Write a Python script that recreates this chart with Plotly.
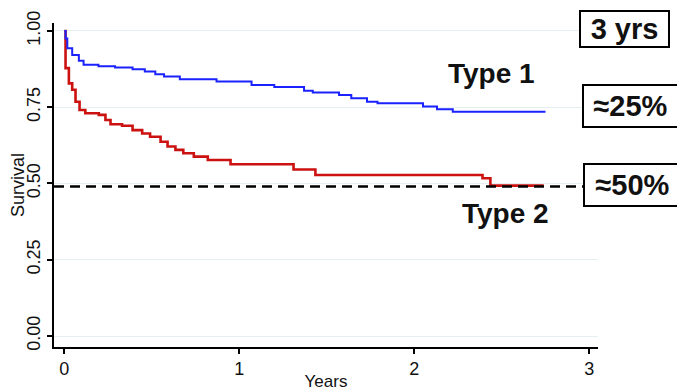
import plotly.graph_objects as go

# Kaplan-Meier style step data
type1_years = [0, 0.007, 0.017, 0.045, 0.083, 0.11, 0.195, 0.29, 0.39, 0.46, 0.52, 0.57, 0.66,
               0.87, 1.07, 1.20, 1.37, 1.42, 1.57, 1.64, 1.73, 1.79, 2.05, 2.13, 2.22, 2.75]
type1_surv = [1.0, 0.975, 0.943, 0.921, 0.902, 0.889, 0.884, 0.880, 0.874, 0.867, 0.858, 0.851, 0.842,
              0.834, 0.823, 0.816, 0.804, 0.798, 0.790, 0.779, 0.768, 0.763, 0.752, 0.743, 0.735, 0.735]

type2_years = [0, 0.007, 0.026, 0.045, 0.064, 0.087, 0.12, 0.197, 0.235, 0.264, 0.33, 0.39, 0.445,
               0.49, 0.55, 0.59, 0.635, 0.68, 0.74, 0.82, 0.95, 1.31, 1.435, 2.39, 2.435, 2.74]
type2_surv = [1.0, 0.878, 0.828, 0.807, 0.768, 0.741, 0.730, 0.725, 0.708, 0.694, 0.689, 0.675, 0.664,
              0.653, 0.637, 0.621, 0.610, 0.599, 0.588, 0.577, 0.563, 0.546, 0.528, 0.517, 0.493, 0.493]

ref_level = 0.49
y_ticks = [0, 0.25, 0.5, 0.75, 1.0]
y_ticklabels = ["0.00", "0.25", "0.50", "0.75", "1.00"]
x_ticks = [0, 1, 2, 3]

FONT = "Liberation Sans, Arial, sans-serif"

fig = go.Figure()
fig.add_trace(go.Scatter(x=type2_years, y=type2_surv, mode="lines", line_shape="hv",
                         line=dict(color="#cc1111", width=2.6), showlegend=False))
fig.add_trace(go.Scatter(x=type1_years, y=type1_surv, mode="lines", line_shape="hv",
                         line=dict(color="#1a22ff", width=2), showlegend=False))

# dashed reference line
fig.add_shape(type="line", xref="x", yref="y", x0=-0.059, x1=2.967, y0=ref_level, y1=ref_level,
              line=dict(color="black", width=2.5, dash="10px,6px"), layer="above")

fig.update_layout(
    width=677, height=383,
    margin=dict(l=45.5, r=87, t=15, b=44),
    paper_bgcolor="white", plot_bgcolor="white",
    font=dict(family=FONT, color="black"),
    xaxis=dict(range=[-0.059, 3.05], tickvals=x_ticks, ticks="outside", ticklen=5,
               tickwidth=1.5, tickcolor="black", showline=True, linecolor="black", linewidth=1.5,
               showgrid=False, zeroline=False, tickfont=dict(size=18, color="#111"),
               automargin=False,
               title=dict(text="Years", font=dict(size=17, color="#111"), standoff=0)),
    yaxis=dict(range=[-0.036, 1.026], tickvals=y_ticks, ticktext=y_ticklabels, tickangle=-90,
               ticks="outside", ticklen=5, tickwidth=1.5, tickcolor="black",
               showline=True, linecolor="black", linewidth=1.5,
               showgrid=True, gridcolor="#e6f0f3", gridwidth=1, zeroline=False,
               tickfont=dict(size=18, color="#111"), automargin=False,
               title=dict(text="Survival", font=dict(size=18, color="#111"), standoff=1)),
)

# curve labels
fig.add_annotation(x=2.44, y=0.862, xref="x", yref="y", text="<b>Type 1</b>", showarrow=False,
                   font=dict(size=28, family=FONT, color="#111"))
fig.add_annotation(x=2.52, y=0.403, xref="x", yref="y", text="<b>Type 2</b>", showarrow=False,
                   font=dict(size=28, family=FONT, color="#111"))

# boxed side labels
boxes = [("3 yrs", 1.0495, 0.9815, 85, 32), ("≈25%", 1.059, 0.745, 91, 38), ("≈50%", 1.064, 0.5015, 93, 38)]
for txt, px, py, w, h in boxes:
    fig.add_annotation(x=px, y=py, xref="paper", yref="paper", text=f"<b>{txt}</b>", showarrow=False,
                       font=dict(size=29, family=FONT, color="#111"), bordercolor="black",
                       borderwidth=2, borderpad=1, bgcolor="white", width=w, height=h,
                       xanchor="center", yanchor="middle")

fig.write_html("out.html")
